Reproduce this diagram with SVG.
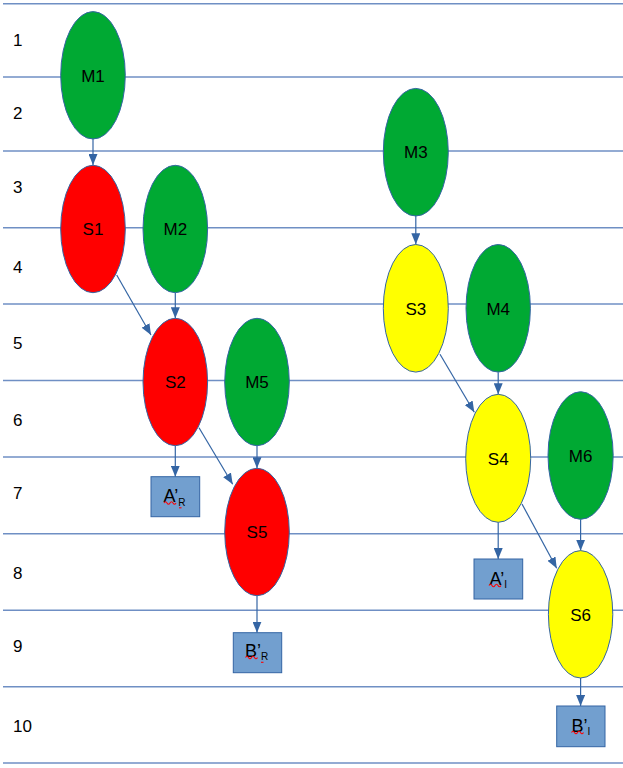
<svg xmlns="http://www.w3.org/2000/svg" width="623" height="768" viewBox="0 0 623 768">
<defs>
<marker id="ah" markerUnits="userSpaceOnUse" markerWidth="12" markerHeight="9" refX="11" refY="4.5" orient="auto">
<path d="M0,0 L11,4.5 L0,9 Z" fill="#3465a4"/>
</marker>
</defs>
<style>
.row{stroke:#6f8fc4;stroke-width:1.4;fill:none}
.lbl{font-family:"Liberation Sans",Arial,sans-serif;font-size:17px;fill:#000}
.nt{font-family:"Liberation Sans",Arial,sans-serif;font-size:17px;fill:#000;text-anchor:middle}
.bt{font-family:"Liberation Sans",Arial,sans-serif;font-size:18px;fill:#000;text-anchor:middle}
.sub{font-size:10px}
.m{fill:#00a933;stroke:#3465a4;stroke-width:1}
.r{fill:#ff0000;stroke:#3465a4;stroke-width:1}
.y{fill:#ffff00;stroke:#3465a4;stroke-width:1}
.box{fill:#729fcf;stroke:#3465a4;stroke-width:1}
.c{stroke:#3465a4;stroke-width:1.2;fill:none;marker-end:url(#ah)}
.sp{stroke:#ff0000;stroke-width:1.1;fill:none}
</style>
<rect width="623" height="768" fill="#ffffff"/>
<g id="rows">
<line class="row" x1="3" y1="3.7" x2="623" y2="3.7"/>
<line class="row" x1="3" y1="77" x2="623" y2="77"/>
<line class="row" x1="3" y1="151" x2="623" y2="151"/>
<line class="row" x1="3" y1="227.7" x2="623" y2="227.7"/>
<line class="row" x1="3" y1="304" x2="623" y2="304"/>
<line class="row" x1="3" y1="380.5" x2="623" y2="380.5"/>
<line class="row" x1="3" y1="457" x2="623" y2="457"/>
<line class="row" x1="3" y1="533.7" x2="623" y2="533.7"/>
<line class="row" x1="3" y1="610.3" x2="623" y2="610.3"/>
<line class="row" x1="3" y1="686.7" x2="623" y2="686.7"/>
<line class="row" x1="3" y1="763" x2="623" y2="763"/>
</g>
<g id="row-labels">
<text class="lbl" x="13" y="45.7">1</text>
<text class="lbl" x="13" y="119">2</text>
<text class="lbl" x="13" y="192.7">3</text>
<text class="lbl" x="13" y="273">4</text>
<text class="lbl" x="13" y="349.3">5</text>
<text class="lbl" x="13" y="426">6</text>
<text class="lbl" x="13" y="499">7</text>
<text class="lbl" x="13" y="579">8</text>
<text class="lbl" x="13" y="651.7">9</text>
<text class="lbl" x="13" y="732">10</text>
</g>
<g id="connectors">
<line class="c" x1="93" y1="139" x2="93" y2="165"/>
<line class="c" x1="116.7" y1="275" x2="151" y2="335"/>
<line class="c" x1="175.3" y1="293" x2="175.3" y2="318.3"/>
<line class="c" x1="175.3" y1="446" x2="175.3" y2="476.7"/>
<line class="c" x1="199" y1="427.7" x2="232.7" y2="484.3"/>
<line class="c" x1="257" y1="446" x2="257" y2="468.3"/>
<line class="c" x1="257" y1="596" x2="257" y2="632.7"/>
<line class="c" x1="415.8" y1="216" x2="415.8" y2="244.3"/>
<line class="c" x1="440" y1="354.3" x2="474.3" y2="412.3"/>
<line class="c" x1="498.2" y1="372.3" x2="498.2" y2="394.3"/>
<line class="c" x1="498.2" y1="522.3" x2="498.2" y2="559"/>
<line class="c" x1="522" y1="504" x2="556.7" y2="568.3"/>
<line class="c" x1="580.6" y1="519.3" x2="580.6" y2="550.7"/>
<line class="c" x1="580.6" y1="678" x2="580.6" y2="706"/>
</g>
<g id="M1"><ellipse class="m" cx="93" cy="75.3" rx="32.3" ry="63.7"/><text class="nt" x="93" y="81.5">M1</text></g>
<g id="S1"><ellipse class="r" cx="93" cy="229" rx="32.3" ry="63.7"/><text class="nt" x="93" y="235.2">S1</text></g>
<g id="M2"><ellipse class="m" cx="175.3" cy="229" rx="32.3" ry="63.7"/><text class="nt" x="175.3" y="235.2">M2</text></g>
<g id="S2"><ellipse class="r" cx="175.3" cy="382" rx="32.3" ry="63.7"/><text class="nt" x="175.3" y="388.2">S2</text></g>
<g id="M5"><ellipse class="m" cx="257" cy="382" rx="32.3" ry="63.7"/><text class="nt" x="257" y="388.2">M5</text></g>
<g id="S5"><ellipse class="r" cx="257" cy="532" rx="32.3" ry="63.7"/><text class="nt" x="257" y="538.2">S5</text></g>
<g id="M3"><ellipse class="m" cx="415.8" cy="152.2" rx="32.5" ry="63.8"/><text class="nt" x="415.8" y="158.4">M3</text></g>
<g id="S3"><ellipse class="y" cx="415.8" cy="308.3" rx="32.5" ry="63.8"/><text class="nt" x="415.8" y="314.5">S3</text></g>
<g id="M4"><ellipse class="m" cx="498.2" cy="308.3" rx="32.2" ry="63.8"/><text class="nt" x="498.2" y="314.5">M4</text></g>
<g id="S4"><ellipse class="y" cx="498.2" cy="458.3" rx="32.5" ry="64"/><text class="nt" x="498.2" y="464.5">S4</text></g>
<g id="M6"><ellipse class="m" cx="580.6" cy="455.5" rx="32.6" ry="63.8"/><text class="nt" x="580.6" y="461.7">M6</text></g>
<g id="S6"><ellipse class="y" cx="580.6" cy="614.3" rx="32.2" ry="63.7"/><text class="nt" x="580.6" y="620.5">S6</text></g>
<g id="AR">
<rect class="box" x="151" y="476.7" width="48.7" height="40"/>
<text class="bt" x="174.5" y="502.3">A’<tspan class="sub" dy="3.5">R</tspan></text>
<path class="sp" d="M164,503 q1.5,-2.5 3,0 t3,0 t3,0 t3,0"/>
<path class="sp" d="M179,507.8 h2.5"/>
</g>
<g id="BR">
<rect class="box" x="233.3" y="632.7" width="48.4" height="40"/>
<text class="bt" x="256.5" y="656.7">B’<tspan class="sub" dy="3.5">R</tspan></text>
<path class="sp" d="M245.5,657.5 q1.5,-2.5 3,0 t3,0 t3,0 t3,0"/>
<path class="sp" d="M261,662.3 h2.5"/>
</g>
<g id="AI">
<rect class="box" x="474" y="559" width="48.7" height="40"/>
<text class="bt" x="498.3" y="584.6">A’<tspan class="sub" dy="3.5">I</tspan></text>
<path class="sp" d="M489,585.5 q1.5,-2.5 3,0 t3,0 t3,0 t3,0"/>
</g>
<g id="BI">
<rect class="box" x="556.7" y="706" width="48.3" height="40.7"/>
<text class="bt" x="580.8" y="731.5">B’<tspan class="sub" dy="3.5">I</tspan></text>
<path class="sp" d="M571.5,732.5 q1.5,-2.5 3,0 t3,0 t3,0 t3,0"/>
</g>
</svg>
